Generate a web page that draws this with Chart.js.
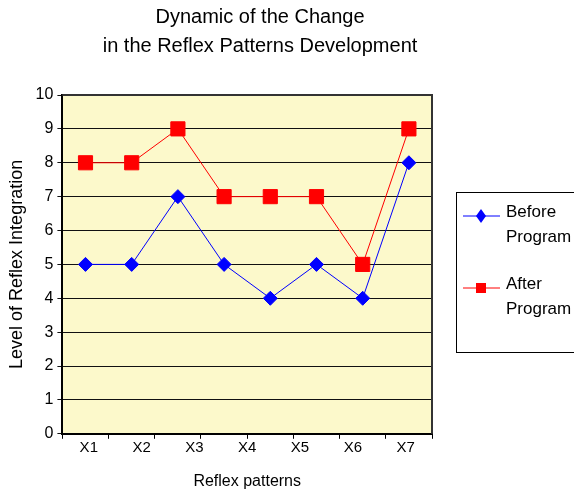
<!DOCTYPE html>
<html>
<head>
<meta charset="utf-8">
<script src="https://cdn.jsdelivr.net/npm/chart.js@4/dist/chart.umd.min.js"></script>
<style>
  html, body { margin: 0; padding: 0; background: #fff; }
  #wrap { width: 574px; height: 491px; }
</style>
</head>
<body>
<div id="wrap"><canvas id="myChart"></canvas></div>
<script>
// point slots along the x axis (8 measurements)
const slots = ['1', '2', '3', '4', '5', '6', '7', '8'];
// the tick labels printed under the axis
const patternLabels = ['X1', 'X2', 'X3', 'X4', 'X5', 'X6', 'X7'];
// series values
const beforeProgram = [5, 5, 7, 5, 4, 5, 4, 8];
const afterProgram = [8, 8, 9, 7, 7, 7, 5, 9];

const FONT = "'Liberation Sans', Arial, sans-serif";
Chart.defaults.font.family = FONT;
Chart.defaults.color = '#000';

// yellow plot area with a dark frame on top and right
const plotFrame = {
  id: 'plotFrame',
  beforeDraw(chart) {
    const { ctx, chartArea: a } = chart;
    ctx.save();
    ctx.fillStyle = '#fcf9cb';
    ctx.fillRect(a.left, a.top, a.right - a.left, a.bottom - a.top);
    ctx.restore();
  },
  afterDatasetsDraw(chart) {
    const { ctx, chartArea: a } = chart;
    ctx.save();
    ctx.strokeStyle = '#333';
    ctx.lineWidth = 2;
    ctx.beginPath();
    ctx.moveTo(a.left, a.top);
    ctx.lineTo(a.right, a.top);
    ctx.lineTo(a.right, a.bottom);
    ctx.stroke();
    ctx.restore();
  }
};

// boxed legend on the right, two-line entries
const boxLegend = {
  id: 'boxLegend',
  afterDraw(chart) {
    const { ctx, chartArea: a } = chart;
    const left = a.right + 24, top = 192, bottom = 352;
    ctx.save();
    ctx.strokeStyle = '#000';
    ctx.lineWidth = 1;
    ctx.strokeRect(left + 0.5, top + 0.5, 140, bottom - top);
    ctx.font = '17px ' + FONT;
    ctx.textBaseline = 'middle';
    ctx.textAlign = 'left';
    const rows = [
      { ds: chart.data.datasets[0], y: 212 },
      { ds: chart.data.datasets[1], y: 284 }
    ];
    rows.forEach(r => {
      const c = r.ds.borderColor;
      const cx = left + 25;
      ctx.strokeStyle = c;
      ctx.lineWidth = 1;
      ctx.beginPath();
      ctx.moveTo(left + 7, r.y + 4);
      ctx.lineTo(left + 44, r.y + 4);
      ctx.stroke();
      ctx.fillStyle = c;
      ctx.beginPath();
      if (r.ds.pointStyle === 'rectRot') {
        ctx.moveTo(cx, r.y - 3); ctx.lineTo(cx + 5, r.y + 4);
        ctx.lineTo(cx, r.y + 11); ctx.lineTo(cx - 5, r.y + 4);
      } else {
        ctx.rect(cx - 5, r.y - 1, 10, 10);
      }
      ctx.closePath();
      ctx.fill();
      ctx.fillStyle = '#000';
      ctx.fillText(r.ds.label.split(' ')[0], left + 50, r.y);
      ctx.fillText(r.ds.label.split(' ')[1], left + 50, r.y + 25);
    });
    ctx.restore();
  }
};

const ctx = document.getElementById('myChart').getContext('2d');
const myChart = new Chart(ctx, {
  type: 'line',
  data: {
    labels: slots,
    datasets: [{
      label: 'Before Program',
      data: beforeProgram,
      borderColor: '#0000ff',
      backgroundColor: '#0000ff',
      borderWidth: 1,
      pointStyle: 'rectRot',
      pointRadius: 7,
      pointHoverRadius: 7,
      pointBorderWidth: 1,
      tension: 0
    }, {
      label: 'After Program',
      data: afterProgram,
      borderColor: '#ff0000',
      backgroundColor: '#ff0000',
      borderWidth: 1,
      pointStyle: 'rect',
      pointRadius: 10,
      pointHoverRadius: 10,
      pointBorderWidth: 1,
      tension: 0
    }]
  },
  options: {
    responsive: true,
    maintainAspectRatio: false,
    animation: false,
    layout: { padding: { left: 6, right: 60, top: 0, bottom: 0 } },
    plugins: {
      legend: { display: false },
      tooltip: { enabled: false },
      title: {
        display: true,
        text: ['Dynamic of the Change', 'in the Reflex Patterns Development'],
        font: { size: 20, weight: 'normal', lineHeight: 1.45 },
        color: '#000',
        padding: { top: 3, bottom: 34 }
      }
    },
    scales: {
      x: {
        type: 'category',
        offset: true,
        grid: { display: true, offset: true, drawOnChartArea: false, drawTicks: true, tickLength: 5, color: '#000' },
        border: { display: true, color: '#000', width: 2 },
        ticks: { display: false }
      },
      x2: {
        type: 'category',
        position: 'bottom',
        labels: patternLabels,
        offset: true,
        grid: { display: false },
        border: { display: false },
        ticks: { font: { size: 15 }, color: '#000', padding: -8, maxRotation: 0, autoSkip: false },
        title: { display: true, text: 'Reflex patterns', font: { size: 16 }, color: '#000', padding: { top: 23, bottom: 0 } }
      },
      y: {
        min: 0,
        max: 10,
        ticks: { stepSize: 1, font: { size: 16 }, color: '#000', padding: 4 },
        grid: { color: '#111', lineWidth: 1, tickLength: 5 },
        border: { display: true, color: '#000', width: 2 },
        title: { display: true, text: 'Level of Reflex Integration', font: { size: 18 }, color: '#000', padding: { top: 0, bottom: 4 } }
      },
      spacer: {
        type: 'linear',
        position: 'right',
        display: true,
        grid: { display: false },
        border: { display: false },
        ticks: { display: false },
        afterFit(scale) { scale.width = 82; }
      }
    }
  },
  plugins: [plotFrame, boxLegend]
});
</script>
</body>
</html>
